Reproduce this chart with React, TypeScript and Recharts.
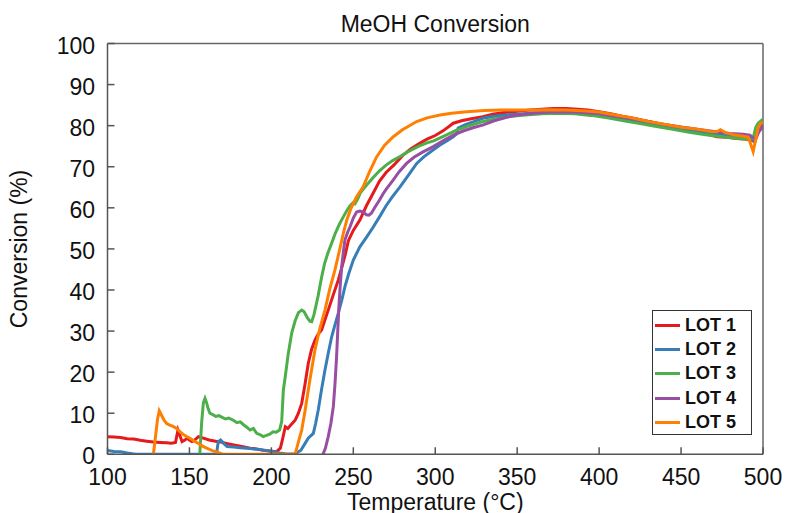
import { LineChart, Line, XAxis, YAxis, ReferenceLine } from "recharts";

// temperature (°C), conversion (%)
const lot1: [number, number][] = [
  [100, 4.3], [104, 4.2], [108, 4.1], [112, 3.8], [116, 3.7], [120, 3.4], [124, 3.2], [128, 3.0],
  [132, 2.9], [136, 2.8], [139, 2.7], [141.5, 2.9], [143, 5.9], [144.5, 4.2], [145.5, 3.1], [147, 3.4],
  [148.5, 3.9], [150, 3.5], [151.5, 3.1], [153, 3.4], [155.5, 4.3], [158, 4.0], [162, 3.5], [166, 3.2],
  [170, 2.9], [174, 2.5], [178, 2.2], [182, 1.9], [187, 1.5], [191, 1.3], [195, 1.0], [199, 0.8],
  [203, 0.6], [205.5, 1.5], [207, 4.0], [208.5, 6.7], [210, 6.3], [212, 7.2], [214.5, 8.3], [216.5, 10],
  [218.5, 12.4], [220.5, 17], [222.5, 22.1], [224.5, 25.5], [226.6, 27.8], [228.5, 29.2], [230.7, 30.3],
  [232.5, 32.5], [234.7, 35.1], [237.5, 38.5], [240.8, 42.4], [243, 45.5], [245, 48.5], [247, 52],
  [250, 54.5], [254, 57], [258, 60.5], [262, 63.5], [266, 66.5], [270, 68.6], [275, 70.5], [280, 72.7],
  [285, 74.3], [290, 75.6], [295, 76.7], [300, 77.6], [305, 78.8], [311, 80.6], [316, 81.2], [322, 81.7],
  [329, 82.2], [335, 82.8], [342, 83.2], [350, 83.5], [358, 83.8], [365, 84.0], [372, 84.2], [380, 84.2],
  [387, 84.0], [393, 83.8], [400, 83.4], [407, 82.9], [414, 82.3], [421, 81.8], [428, 81.2], [435, 80.6],
  [443, 80.0], [451, 79.4], [458, 78.7], [465, 78.0], [472, 77.3], [478, 77.2], [484, 76.9], [490, 76.7],
  [493, 76.5], [495, 76.0], [497, 78.5], [500, 80.0],
];

const lot2: [number, number][] = [
  [100, 0.9], [104, 0.7], [108, 0.6], [112, 0.3], [116, 0.1], [118, 0], [166.5, 0], [167.6, 3.1],
  [169, 3.5], [171, 2.6], [173, 1.9], [177, 1.8], [181, 1.6], [187, 1.4], [192, 1.2], [197, 0.9],
  [201, 0.6], [205, 0.3], [209, 0.1], [214.4, 0.1], [218, 1.0], [220.5, 2.6], [222.5, 3.9], [224, 4.5],
  [225.6, 5.1], [227, 7.5], [228.6, 10.8], [230.5, 15.5], [232.7, 20.5], [234.8, 24.8], [236.8, 28.6],
  [238.8, 31.5], [240.8, 34.3], [243, 37.6], [244.9, 40.8], [247, 43.7], [250, 47.3], [254, 50.5],
  [258, 52.8], [262, 55.2], [266, 57.8], [270, 60.5], [274, 62.8], [278.5, 65.1], [283, 67.6],
  [288.7, 70.8], [293, 72.4], [298, 73.9], [302.9, 75.3], [307, 76.3], [311, 77.3], [313, 78.0],
  [314, 79.4], [318, 80.2], [323, 80.9], [329, 81.8], [336, 82.3], [343, 82.6], [350, 82.8], [360, 83.1],
  [370, 83.2], [380, 83.3], [390, 83.0], [400, 82.6], [410, 81.9], [420, 81.3], [430, 80.6], [440, 79.9],
  [450, 79.2], [460, 78.6], [470, 78.1], [480, 77.7], [488, 77.4], [492, 77.3], [494, 76.5], [496, 77.8],
  [498, 80.0], [500, 81.0],
];

const lot3: [number, number][] = [
  [156.3, 0], [157.5, 8], [158.5, 12.5], [159.5, 13.6], [160.5, 12.5], [161.5, 11], [162.5, 10.0],
  [164.5, 9.6], [166, 9.2], [168, 9.4], [170, 9.0], [172, 8.6], [174, 8.8], [176.8, 8.3], [179, 7.7],
  [181, 7.9], [183, 7.2], [185, 6.6], [187, 5.9], [189, 6.3], [191, 5.1], [193, 4.8], [195, 4.3],
  [197, 4.6], [199, 4.9], [201, 5.5], [203, 5.4], [205, 5.9], [206.3, 8], [207.3, 15.6], [208.5, 19],
  [210.3, 24.5], [212.4, 29.5], [214.5, 32.5], [216.5, 34.5], [218.5, 35.1], [220, 34.7], [222, 33.2],
  [223.5, 32.4], [224.6, 32.3], [226, 34], [228.5, 38.5], [230.7, 43.2], [232.5, 46.5], [234.5, 49],
  [236.8, 51.4], [239, 53.8], [241.5, 56], [243.9, 57.8], [246, 59.3], [248, 60.5], [250, 61.3],
  [251, 61.0], [252.5, 62], [254.5, 63.8], [258, 65.5], [262, 67.3], [266, 69], [270, 70.4], [274, 71.5],
  [278.5, 72.5], [284, 73.8], [290, 75.0], [295, 75.8], [299, 76.3], [305, 77.4], [313, 78.9],
  [320, 79.9], [328, 80.9], [336, 81.6], [345, 82.2], [355, 82.6], [365, 82.9], [375, 83.0], [385, 82.9],
  [395, 82.5], [405, 81.9], [415, 81.2], [425, 80.5], [435, 79.8], [445, 79.1], [455, 78.4], [465, 77.8],
  [475, 77.3], [485, 76.9], [492, 76.7], [494, 77.0], [495.5, 79.5], [497, 80.6], [500, 81.6],
];

const lot4: [number, number][] = [
  [231.5, 0], [233, 1.5], [234.7, 4.3], [236.3, 7.5], [237.8, 11.6], [238.8, 17], [239.8, 23.8],
  [240.5, 30], [241.2, 35.9], [242, 41], [242.9, 45.7], [244, 49.5], [244.9, 52.2], [246.5, 54],
  [248, 55.4], [250, 57.5], [252, 59], [254, 59.2], [256, 59.0], [258, 58.3], [259.5, 58.2], [261, 58.7],
  [263, 60], [266, 61.9], [268.3, 63.5], [270, 64.5], [274.4, 66.8], [278, 68.8], [282.5, 70.8],
  [287, 72.3], [292, 73.5], [298.8, 74.9], [305, 76.4], [311, 77.7], [317, 78.7], [323, 79.5],
  [329.3, 80.2], [336, 81.2], [343, 82.0], [350, 82.6], [360, 83.0], [370, 83.3], [380, 83.4],
  [390, 83.2], [400, 82.9], [410, 82.3], [420, 81.7], [430, 81.0], [440, 80.3], [450, 79.7], [460, 79.1],
  [470, 78.6], [480, 78.1], [488, 77.9], [492, 77.7], [494, 77.0], [495.5, 76.8], [497.5, 78.5],
  [500, 79.8],
];

const lot5: [number, number][] = [
  [128, 0], [129.5, 5], [130.5, 8.5], [131.6, 10.6], [133, 9.5], [134.5, 8.3], [136.1, 7.5], [138, 7.1],
  [140, 6.8], [142.2, 6.3], [144, 5.6], [146, 4.9], [148, 4.4], [150.3, 3.9], [153, 3.2], [156, 2.5],
  [158, 2.0], [160.5, 1.5], [164, 0.9], [167, 0.5], [170.7, 0], [214.5, 0], [216.5, 3], [218.5, 5.9],
  [220.5, 10.5], [222.5, 15.6], [224.5, 20.5], [226.6, 25.4], [229.5, 30.5], [232.7, 35.1],
  [235.5, 40], [238.8, 44.9], [241.5, 49.5], [243.9, 53.8], [246, 57], [248.5, 59.8], [252, 62.7],
  [256, 65.1], [260, 68.9], [264.2, 72.4], [269, 75.2], [274.4, 77.3], [280, 79.0], [288.7, 81.0],
  [295, 81.9], [302.9, 82.6], [310, 83.0], [319.2, 83.4], [330, 83.7], [339.5, 83.8], [350, 83.8],
  [360, 83.8], [370, 83.9], [380, 83.8], [390, 83.6], [400, 83.3], [410, 82.6], [420, 81.9], [430, 81.0],
  [441.2, 80.2], [450, 79.6], [460, 79.1], [468, 78.6], [471.7, 78.5], [474, 79.0], [477, 78.3],
  [482, 77.8], [488, 77.4], [491, 77.2], [492.5, 75.5], [494, 73.7], [495.5, 76.5], [497, 79.5],
  [498.5, 80.6], [500, 80.8],
];

const seriesNames = ["LOT 1", "LOT 2", "LOT 3", "LOT 4", "LOT 5"];
const seriesColors = ["#e41a1c", "#377eb8", "#4daf4a", "#984ea3", "#ff7f00"];
const seriesData = [lot1, lot2, lot3, lot4, lot5];

const xTicks = [100, 150, 200, 250, 300, 350, 400, 450, 500];
const yTicks = [0, 10, 20, 30, 40, 50, 60, 70, 80, 90, 100];

const FONT = '"Liberation Sans", Arial, sans-serif';
const AXIS = "#555";

const toPoints = (pts: [number, number][]) => pts.map(([x, y]) => ({ x, y }));

// ticks point inward, so draw the mark with the label
const XTick = ({ x, y, payload }: any) => (
  <g>
    <line x1={x} x2={x} y1={y} y2={y - 7} stroke={AXIS} strokeWidth={1.5} />
    <text x={x} y={y + 30.5} textAnchor="middle" fontSize={23} fontFamily={FONT} fill="#111">
      {payload.value}
    </text>
  </g>
);

const YTick = ({ x, y, payload }: any) => (
  <g>
    <line x1={x} x2={x + 7} y1={y} y2={y} stroke={AXIS} strokeWidth={1.5} />
    <text x={x - 12.5} y={y + 10} textAnchor="end" fontSize={23} fontFamily={FONT} fill="#111">
      {payload.value}
    </text>
  </g>
);

const LegendBox = () => (
  <div
    style={{
      position: "absolute",
      left: 652,
      top: 310,
      border: "1.5px solid #333",
      background: "#fff",
      width: 100,
      height: 125,
      boxSizing: "border-box",
      paddingTop: 2,
      fontFamily: FONT,
    }}
  >
    {seriesNames.map((name, i) => (
      <div key={name} style={{ display: "flex", alignItems: "center", height: 24.3 }}>
        <span
          style={{
            display: "inline-block",
            width: 25,
            height: 3,
            marginLeft: 2,
            background: seriesColors[i],
          }}
        />
        <span style={{ marginLeft: 5, fontSize: 18, fontWeight: "bold", color: "#111" }}>{name}</span>
      </div>
    ))}
  </div>
);

export default function App() {
  return (
    <div style={{ position: "absolute", left: 0, top: 0, width: 785, height: 513, background: "#fff" }}>
      <div
        style={{
          position: "absolute",
          left: 107.5,
          width: 655.5,
          top: 12.5,
          textAlign: "center",
          fontFamily: FONT,
          fontSize: 23,
          lineHeight: "23px",
          color: "#111",
        }}
      >
        MeOH Conversion
      </div>
      <LineChart width={785} height={513} margin={{ top: 43.5, right: 22, bottom: 3.7, left: 7.5 }}>
        <XAxis
          type="number"
          dataKey="x"
          domain={[100, 500]}
          ticks={xTicks}
          allowDataOverflow
          height={55}
          tickSize={0}
          tickMargin={0}
          tickLine={false}
          tick={XTick}
          axisLine={{ stroke: AXIS, strokeWidth: 1.5 }}
          label={{
            content: () => (
              <text x={435.3} y={509.5} textAnchor="middle" fontSize={23} fontFamily={FONT} fill="#111">
                Temperature (°C)
              </text>
            ),
          }}
        />
        <YAxis
          type="number"
          dataKey="y"
          domain={[0, 100]}
          ticks={yTicks}
          allowDataOverflow
          width={100}
          tickSize={0}
          tickMargin={0}
          tickLine={false}
          tick={YTick}
          axisLine={{ stroke: AXIS, strokeWidth: 1.5 }}
          label={{
            content: () => (
              <text
                transform="rotate(-90)"
                x={-249}
                y={27}
                textAnchor="middle"
                fontSize={23}
                fontFamily={FONT}
                fill="#111"
              >
                Conversion (%)
              </text>
            ),
          }}
        />
        <ReferenceLine y={100} stroke="#666" strokeWidth={1.5} />
        <ReferenceLine x={500} stroke="#666" strokeWidth={1.5} />
        {seriesData.map((pts, i) => (
          <Line
            key={seriesNames[i]}
            data={toPoints(pts)}
            dataKey="y"
            name={seriesNames[i]}
            type="linear"
            stroke={seriesColors[i]}
            strokeWidth={3}
            dot={false}
            isAnimationActive={false}
          />
        ))}
      </LineChart>
      <LegendBox />
    </div>
  );
}
